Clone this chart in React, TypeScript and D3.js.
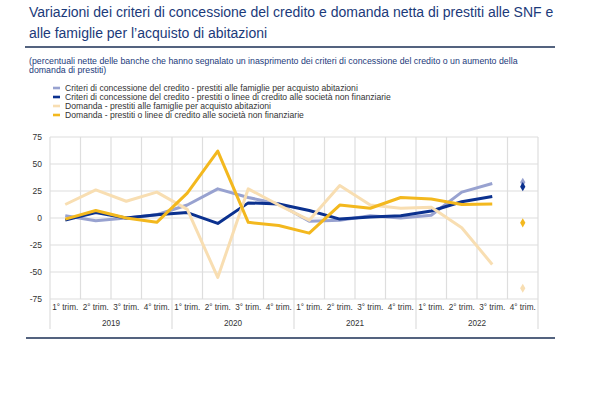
import React from 'react';
import * as d3 from 'd3';

const years = ['2019', '2020', '2021', '2022'];
const quarters = ['1° trim.', '2° trim.', '3° trim.', '4° trim.'];
const yTicks = [75, 50, 25, 0, -25, -50, -75];

// observed values, 1° trim. 2019 .. 3° trim. 2022
const criteriFamiglie = [2, -2.5, 0, 3, 12, 27, 19, 13, -3, -2, 2, 0, 2.5, 24, 32];
const criteriSnf = [-2, 5, 0, 3, 5, -5, 14, 13, 7, -1, 1, 2, 6.5, 15, 20];
const domandaFamiglie = [12.5, 26, 15.5, 24, 8, -55, 27, 12, -2, 30, 12, 9, 10, -9, -43];
const domandaSnf = [-1, 7, 0, -4, 23, 62, -4, -7, -14, 12, 9, 19, 17.5, 12.5, 13];
// expectations for 4° trim. 2022 (diamonds)
const attese = [33, 29, -65, -4.5];

const seriesNames = [
  'Criteri di concessione del credito - prestiti alle famiglie per acquisto abitazioni',
  'Criteri di concessione del credito - prestiti o linee di credito alle società non finanziarie',
  'Domanda - prestiti alle famiglie per acquisto abitazioni',
  'Domanda - prestiti o linee di credito alle società non finanziarie',
];
const seriesValues = [criteriFamiglie, criteriSnf, domandaFamiglie, domandaSnf];
const colors = ['#98a2d0', '#0b318f', '#f8deb2', '#f3b81e'];

const font = '"Liberation Sans", Arial, sans-serif';
const titleColor = '#1b3a7a';

const App = () => {
  const keys = years.flatMap(y => quarters.map(q => `${y}-${q}`));
  const x = d3.scaleBand().domain(keys).range([50, 538]);
  const y = d3.scaleLinear().domain([-75, 75]).range([299, 137]);
  const bw = x.bandwidth();
  const cx = (i: number) => (x(keys[i]) as number) + bw / 2;

  const line = d3.line<number>()
    .x((d, i) => cx(i))
    .y(d => y(d));

  const diamond = d3.symbol().type(d3.symbolDiamond).size(24);

  return (
    <svg width={615} height={394} style={{ position: 'absolute', left: 0, top: 0, fontFamily: font }}>
      <rect width={615} height={394} fill="#fff" />
      <text x={29} y={17} fontSize={14} fill={titleColor}>
        Variazioni dei criteri di concessione del credito e domanda netta di prestiti alle SNF e
      </text>
      <text x={29} y={38} fontSize={14} fill={titleColor}>
        alle famiglie per l’acquisto di abitazioni
      </text>
      <line x1={25} x2={555} y1={47} y2={47} stroke="#1b2f55" strokeWidth={1.3} />
      <text x={29} y={64} fontSize={8.8} fill={titleColor}>
        (percentuali nette delle banche che hanno segnalato un inasprimento dei criteri di concessione del credito o un aumento della
      </text>
      <text x={29} y={73} fontSize={8.8} fill={titleColor}>domanda di prestiti)</text>

      {seriesNames.map((n, i) => (
        <g key={n} transform={`translate(0, ${88 + i * 9})`}>
          <rect x={53} y={-1.3} width={7} height={2.6} fill={colors[i]} />
          <text x={65} y={3} fontSize={8.6} fill="#333">{n}</text>
        </g>
      ))}

      {/* grid */}
      {yTicks.map(t => (
        <g key={t}>
          <line x1={50} x2={538} y1={y(t)} y2={y(t)} stroke="#dedede" strokeWidth={1.2} />
          <text x={42} y={y(t) + 3} fontSize={8.5} fill="#333" textAnchor="end">{t}</text>
        </g>
      ))}
      {keys.map((k, i) => (
        <line key={k} x1={x(k)} x2={x(k)} y1={137} y2={i % 4 === 0 ? 329 : 299}
          stroke="#dedede" strokeWidth={1.2} />
      ))}
      <line x1={538} x2={538} y1={137} y2={329} stroke="#dedede" strokeWidth={1.2} />

      {seriesValues.map((vals, i) => (
        <path key={i} d={line(vals) ?? ''} fill="none" stroke={colors[i]} strokeWidth={3}
          strokeLinejoin="round" />
      ))}
      {attese.map((v, i) => (
        <path key={i} d={diamond() ?? ''} fill={colors[i]}
          transform={`translate(${cx(15)}, ${y(v)})`} />
      ))}

      {keys.map((k, i) => (
        <text key={k} x={cx(i)} y={310} fontSize={8.2} fill="#333" textAnchor="middle">
          {quarters[i % 4]}
        </text>
      ))}
      {years.map((yr, i) => (
        <text key={yr} x={(x(`${yr}-${quarters[0]}`) as number) + bw * 2} y={326}
          fontSize={8.2} fill="#333" textAnchor="middle">{yr}</text>
      ))}
      <line x1={26} x2={555} y1={338} y2={338} stroke="#1b2f55" strokeWidth={1.3} />
    </svg>
  );
};

export default App;
